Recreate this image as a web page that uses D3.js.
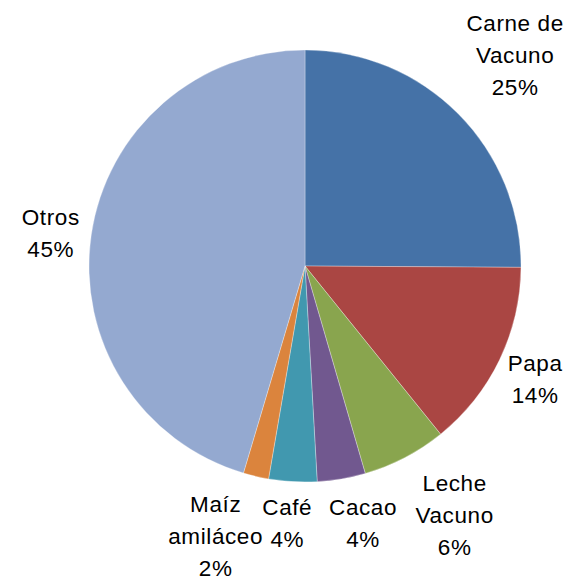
<!DOCTYPE html>
<html>
<head>
<meta charset="utf-8">
<script src="https://cdn.jsdelivr.net/npm/d3@7"></script>
<style>
  body { margin: 0; background: #fff; }
  .lbl { font-family: "Liberation Sans", Arial, sans-serif; font-size: 22.5px; letter-spacing: 0.6px; fill: #000; }
</style>
</head>
<body>
<div id="pie"></div>
<script>
var width = 569,
    height = 576,
    cx = 305, cy = 266,
    radius = 216;

// data (share of total, %)
var categories = ["Carne de Vacuno", "Papa", "Leche Vacuno", "Cacao", "Café", "Maíz amiláceo", "Otros"];
var values = [25.1, 14.1, 6.3, 3.6, 3.6, 1.9, 45.4];
var labelLines = [["Carne de", "Vacuno"], ["Papa"], ["Leche", "Vacuno"], ["Cacao"], ["Café"], ["Maíz", "amiláceo"], ["Otros"]];

var colours = d3.scaleOrdinal()
    .domain(categories)
    .range(["#4572A7", "#AA4643", "#89A54E", "#71588F", "#4198AF", "#DB843D", "#94A9D0"]);

// label nudges from the centroid of the outer label ring
var nudge = {
  "Carne de Vacuno": [25, -27],
  "Papa": [-5, 0],
  "Leche Vacuno": [29, 18],
  "Cacao": [14, 0],
  "Café": [-3, -4],
  "Maíz amiláceo": [-30, 16],
  "Otros": [4, 5]
};
var lineH = 32;

var svg = d3.select("#pie").append("svg")
    .attr("width", width)
    .attr("height", height);

var g = svg.append("g")
    .attr("transform", "translate(" + cx + "," + cy + ")");

var data = categories.map(function(c, i) { return {name: c, value: values[i], lines: labelLines[i]}; });

var pie = d3.pie()
    .sort(null)
    .value(function(d) { return d.value; });

var arc = d3.arc().innerRadius(0).outerRadius(radius);
var labelArc = d3.arc().innerRadius(radius + 45).outerRadius(radius + 45);

var arcs = pie(data);

g.selectAll(".slice")
    .data(arcs)
  .enter().append("path")
    .attr("class", "slice")
    .attr("d", arc)
    .attr("fill", function(d) { return colours(d.data.name); })
    .attr("stroke", "#ffffff")
    .attr("stroke-opacity", 0.5)
    .attr("stroke-width", 0.6);

var labels = g.selectAll(".lbl")
    .data(arcs)
  .enter().append("text")
    .attr("class", "lbl")
    .attr("text-anchor", "middle")
    .each(function(d) {
      var c = labelArc.centroid(d),
          n = nudge[d.data.name],
          lines = d.data.lines.concat([Math.round(d.data.value) + "%"]),
          x = c[0] + n[0],
          y0 = c[1] + n[1] - (lines.length - 1) * lineH / 2 + 8;
      var t = d3.select(this);
      lines.forEach(function(s, i) {
        t.append("tspan")
          .attr("x", x)
          .attr("y", y0 + i * lineH)
          .text(s);
      });
    });
</script>
</body>
</html>
